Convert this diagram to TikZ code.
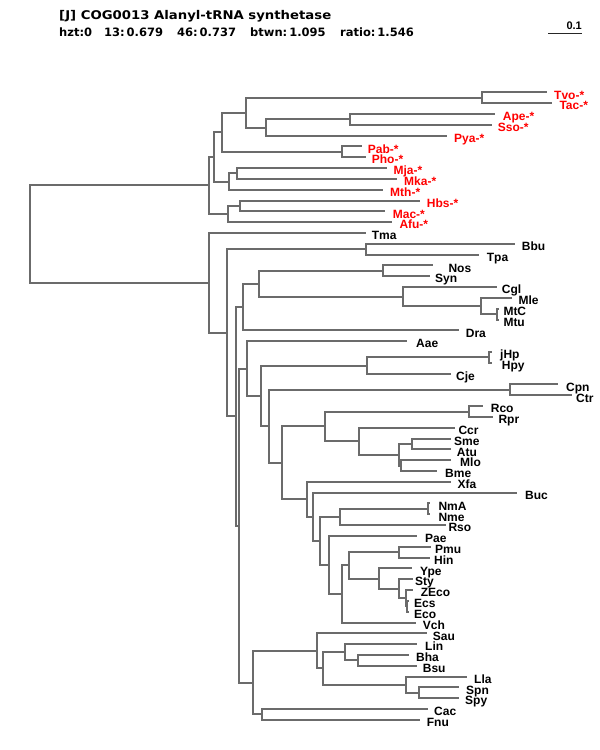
\documentclass[tikz,border=0pt]{standalone}
\usepackage{fontspec}
\setmainfont{Liberation Sans}
\newfontfamily\headfont{DejaVu Sans}
\usepackage{graphicx}

\begin{document}
\begin{tikzpicture}[x=1pt,y=-1pt,
  branch/.style={draw=black!58,line width=2pt},
  taxon/.style={anchor=base west,inner sep=0pt,font=\fontsize{12}{14}\selectfont\bfseries},
  archaeon/.style={taxon,text=red},
  header/.style={anchor=base west,inner sep=0pt,font=\headfont\fontsize{11.5}{14}\selectfont\bfseries}]
\useasboundingbox (0,0) rectangle (600,750);

\node[header,font=\headfont\fontsize{12}{14}\selectfont\bfseries] (title) at (59,19) {\resizebox{272pt}{\height}{[J] COG0013 Alanyl-tRNA synthetase}};
\node[header] (hzt) at (59,36) {hzt:0};
\node[header] (s13) at (104,36) {13:\,0.679};
\node[header] (s46) at (177,36) {46:\,0.737};
\node[header] (btwn) at (250,36) {btwn:\,1.095};
\node[header] (ratio) at (340,36) {ratio:\,1.546};

\coordinate (bar0) at (548,33);
\coordinate (bar1) at (582,33);
\draw[black!85,line width=1pt] (bar0) -- (bar1);
\node[taxon,anchor=base east,font=\fontsize{11}{13}\selectfont\bfseries] (barlabel) at (582,29) {0.1};

\coordinate (root) at (30,234.2);
\coordinate (arc) at (209.3,185.45);
\coordinate (a1) at (214.3,156.9);
\coordinate (a2) at (222,132.2);
\coordinate (a3) at (245.7,112.6);
\coordinate (tt) at (482.3,97.7);
\coordinate (asp) at (265.7,127.5);
\coordinate (as) at (350,119.35);
\coordinate (pp) at (342.3,151.8);
\coordinate (a4) at (229,181.6);
\coordinate (mm) at (236.7,173.45);
\coordinate (a5) at (227.7,214);
\coordinate (hm) at (240,205.9);

\coordinate (bac) at (209.3,282.9);
\coordinate (b1) at (226.7,332.75);
\coordinate (bt) at (365.7,249.2);
\coordinate (b2) at (235.7,416.3);
\coordinate (b3) at (243.3,307);
\coordinate (b5) at (259,283.7);
\coordinate (ns) at (382.7,270.8);
\coordinate (cgl) at (403.3,296.5);
\coordinate (mle) at (481,306);
\coordinate (mt) at (496.7,314.1);
\coordinate (b4) at (238.7,525.6);
\coordinate (b6) at (246.7,368.55);
\coordinate (b7) at (260.7,395.9);
\coordinate (hc) at (366.7,365.5);
\coordinate (hh) at (489.3,357.4);
\coordinate (b8) at (269.3,426.35);
\coordinate (cc) at (510,389.85);
\coordinate (b9) at (281.7,462.85);
\coordinate (b10) at (324.7,426.4);
\coordinate (rr) at (469.3,411.5);
\coordinate (b11) at (358.7,441.25);
\coordinate (b12) at (399.3,454.8);
\coordinate (sa) at (411.7,443.95);
\coordinate (mb) at (401,465.6);
\coordinate (b13) at (306.7,499.3);
\coordinate (b14) at (313.3,516.8);
\coordinate (b15) at (320,540.95);
\coordinate (b16) at (340,517);
\coordinate (nn) at (427.7,508.85);
\coordinate (b17) at (328.7,564.9);
\coordinate (b18) at (342,593.9);
\coordinate (b19) at (348.7,565.3);
\coordinate (ph) at (399,552.1);
\coordinate (b20) at (379,578.5);
\coordinate (b21) at (399.3,588.65);
\coordinate (b22) at (405.7,598.1);
\coordinate (ee) at (407,606.2);
\coordinate (b23) at (252.7,682.65);
\coordinate (b24) at (316.7,650.9);
\coordinate (b25) at (323,668.45);
\coordinate (b26) at (344.7,652.2);
\coordinate (bb) at (357.7,660.3);
\coordinate (b27) at (406,684.7);
\coordinate (ss) at (419,692.8);
\coordinate (cf) at (262,714.4);

\coordinate (Tvo) at (546.7,92.3);
\coordinate (Tac) at (552.3,103.1);
\coordinate (Ape) at (495,113.9);
\coordinate (Sso) at (492.3,124.8);
\coordinate (Pya) at (446.7,135.6);
\coordinate (Pab) at (362.3,146.4);
\coordinate (Pho) at (365.7,157.2);
\coordinate (Mja) at (386.7,168.0);
\coordinate (Mka) at (397.3,178.9);
\coordinate (Mth) at (382.7,189.7);
\coordinate (Hbs) at (420,200.5);
\coordinate (Mac) at (385,211.3);
\coordinate (Afu) at (391.7,222.1);
\coordinate (Tma) at (365.7,233.0);
\coordinate (Bbu) at (515,243.8);
\coordinate (Tpa) at (479.3,254.6);
\coordinate (Nos) at (433.3,265.4);
\coordinate (Syn) at (430,276.2);
\coordinate (Cgl) at (496.7,287.1);
\coordinate (Mle) at (511.7,297.9);
\coordinate (MtC) at (498.5,308.7);
\coordinate (Mtu) at (498.5,319.5);
\coordinate (Dra) at (459.3,330.3);
\coordinate (Aae) at (407.3,341.2);
\coordinate (jHp) at (491.5,352.0);
\coordinate (Hpy) at (491.5,362.8);
\coordinate (Cje) at (450.7,373.6);
\coordinate (Cpn) at (558.3,384.4);
\coordinate (Ctr) at (571.7,395.3);
\coordinate (Rco) at (482.7,406.1);
\coordinate (Rpr) at (493.3,416.9);
\coordinate (Ccr) at (455,427.7);
\coordinate (Sme) at (450.7,438.5);
\coordinate (Atu) at (450.7,449.4);
\coordinate (Mlo) at (450.7,460.2);
\coordinate (Bme) at (437.3,471.0);
\coordinate (Xfa) at (450.7,481.8);
\coordinate (Buc) at (517.3,492.6);
\coordinate (NmA) at (430,503.4);
\coordinate (Nme) at (430,514.3);
\coordinate (Rso) at (446,525.1);
\coordinate (Pae) at (417.3,535.9);
\coordinate (Pmu) at (431,546.7);
\coordinate (Hin) at (430,557.5);
\coordinate (Ype) at (412.3,568.4);
\coordinate (Sty) at (413.3,579.2);
\coordinate (ZEco) at (413.3,590.0);
\coordinate (Ecs) at (408.5,600.8);
\coordinate (Eco) at (408.5,611.6);
\coordinate (Vch) at (416,622.5);
\coordinate (Sau) at (426.7,633.3);
\coordinate (Lin) at (417.3,644.1);
\coordinate (Bha) at (409,654.9);
\coordinate (Bsu) at (417.3,665.7);
\coordinate (Lla) at (466.7,676.6);
\coordinate (Spn) at (459.3,687.4);
\coordinate (Spy) at (459.3,698.2);
\coordinate (Cac) at (427.7,709.0);
\coordinate (Fnu) at (420,719.8);

\draw[branch] (root) |- (arc) (root) |- (bac);
\draw[branch] (arc) |- (a1) (arc) |- (a5);
\draw[branch] (a1) |- (a2) (a1) |- (a4);
\draw[branch] (a2) |- (a3) (a2) |- (pp);
\draw[branch] (a3) |- (tt) (a3) |- (asp);
\draw[branch] (tt) |- (Tvo) (tt) |- (Tac);
\draw[branch] (asp) |- (as) (asp) |- (Pya);
\draw[branch] (as) |- (Ape) (as) |- (Sso);
\draw[branch] (pp) |- (Pab) (pp) |- (Pho);
\draw[branch] (a4) |- (mm) (a4) |- (Mth);
\draw[branch] (mm) |- (Mja) (mm) |- (Mka);
\draw[branch] (a5) |- (hm) (a5) |- (Afu);
\draw[branch] (hm) |- (Hbs) (hm) |- (Mac);

\draw[branch] (bac) |- (Tma) (bac) |- (b1);
\draw[branch] (b1) |- (bt) (b1) |- (b2);
\draw[branch] (bt) |- (Bbu) (bt) |- (Tpa);
\draw[branch] (b2) |- (b3) (b2) |- (b4);
\draw[branch] (b3) |- (b5) (b3) |- (Dra);
\draw[branch] (b5) |- (ns) (b5) |- (cgl);
\draw[branch] (ns) |- (Nos) (ns) |- (Syn);
\draw[branch] (cgl) |- (Cgl) (cgl) |- (mle);
\draw[branch] (mle) |- (Mle) (mle) |- (mt);
\draw[branch] (mt) |- (MtC) (mt) |- (Mtu);
\draw[branch] (b4) |- (b6) (b4) |- (b23);
\draw[branch] (b6) |- (Aae) (b6) |- (b7);
\draw[branch] (b7) |- (hc) (b7) |- (b8);
\draw[branch] (hc) |- (hh) (hc) |- (Cje);
\draw[branch] (hh) |- (jHp) (hh) |- (Hpy);
\draw[branch] (b8) |- (cc) (b8) |- (b9);
\draw[branch] (cc) |- (Cpn) (cc) |- (Ctr);
\draw[branch] (b9) |- (b10) (b9) |- (b13);
\draw[branch] (b10) |- (rr) (b10) |- (b11);
\draw[branch] (rr) |- (Rco) (rr) |- (Rpr);
\draw[branch] (b11) |- (Ccr) (b11) |- (b12);
\draw[branch] (b12) |- (sa) (b12) |- (mb);
\draw[branch] (sa) |- (Sme) (sa) |- (Atu);
\draw[branch] (mb) |- (Mlo) (mb) |- (Bme);
\draw[branch] (b13) |- (Xfa) (b13) |- (b14);
\draw[branch] (b14) |- (Buc) (b14) |- (b15);
\draw[branch] (b15) |- (b16) (b15) |- (b17);
\draw[branch] (b16) |- (nn) (b16) |- (Rso);
\draw[branch] (nn) |- (NmA) (nn) |- (Nme);
\draw[branch] (b17) |- (Pae) (b17) |- (b18);
\draw[branch] (b18) |- (b19) (b18) |- (Vch);
\draw[branch] (b19) |- (ph) (b19) |- (b20);
\draw[branch] (ph) |- (Pmu) (ph) |- (Hin);
\draw[branch] (b20) |- (Ype) (b20) |- (b21);
\draw[branch] (b21) |- (Sty) (b21) |- (b22);
\draw[branch] (b22) |- (ZEco) (b22) |- (ee);
\draw[branch] (ee) |- (Ecs) (ee) |- (Eco);
\draw[branch] (b23) |- (b24) (b23) |- (cf);
\draw[branch] (b24) |- (Sau) (b24) |- (b25);
\draw[branch] (b25) |- (b26) (b25) |- (b27);
\draw[branch] (b26) |- (Lin) (b26) |- (bb);
\draw[branch] (bb) |- (Bha) (bb) |- (Bsu);
\draw[branch] (b27) |- (Lla) (b27) |- (ss);
\draw[branch] (ss) |- (Spn) (ss) |- (Spy);
\draw[branch] (cf) |- (Cac) (cf) |- (Fnu);

\node[archaeon] (lTvo) at (554,99.0) {Tvo-*};
\node[archaeon] (lTac) at (559.3,109.8) {Tac-*};
\node[archaeon] (lApe) at (502.7,120.6) {Ape-*};
\node[archaeon] (lSso) at (497.7,131.5) {Sso-*};
\node[archaeon] (lPya) at (454,142.3) {Pya-*};
\node[archaeon] (lPab) at (367.7,153.1) {Pab-*};
\node[archaeon] (lPho) at (371.7,163.9) {Pho-*};
\node[archaeon] (lMja) at (393.3,174.7) {Mja-*};
\node[archaeon] (lMka) at (404,185.6) {Mka-*};
\node[archaeon] (lMth) at (390,196.4) {Mth-*};
\node[archaeon] (lHbs) at (426.7,207.2) {Hbs-*};
\node[archaeon] (lMac) at (392.7,218.0) {Mac-*};
\node[archaeon] (lAfu) at (399.3,228.8) {Afu-*};
\node[taxon] (lTma) at (371.7,239.7) {Tma};
\node[taxon] (lBbu) at (521.7,250.5) {Bbu};
\node[taxon] (lTpa) at (486.7,261.3) {Tpa};
\node[taxon] (lNos) at (448.3,272.1) {Nos};
\node[taxon] (lSyn) at (435,282.9) {Syn};
\node[taxon] (lCgl) at (501.7,293.8) {Cgl};
\node[taxon] (lMle) at (518.3,304.6) {Mle};
\node[taxon] (lMtC) at (503.3,315.4) {MtC};
\node[taxon] (lMtu) at (503.3,326.2) {Mtu};
\node[taxon] (lDra) at (465.7,337.0) {Dra};
\node[taxon] (lAae) at (416,347.9) {Aae};
\node[taxon] (ljHp) at (500,358.7) {jHp};
\node[taxon] (lHpy) at (501.7,369.5) {Hpy};
\node[taxon] (lCje) at (456,380.3) {Cje};
\node[taxon] (lCpn) at (566,391.1) {Cpn};
\node[taxon] (lCtr) at (576,402.0) {Ctr};
\node[taxon] (lRco) at (490.7,412.8) {Rco};
\node[taxon] (lRpr) at (498.3,423.6) {Rpr};
\node[taxon] (lCcr) at (458.3,434.4) {Ccr};
\node[taxon] (lSme) at (454,445.2) {Sme};
\node[taxon] (lAtu) at (456.7,456.1) {Atu};
\node[taxon] (lMlo) at (460,466.9) {Mlo};
\node[taxon] (lBme) at (445,477.7) {Bme};
\node[taxon] (lXfa) at (457.3,488.5) {Xfa};
\node[taxon] (lBuc) at (525,499.3) {Buc};
\node[taxon] (lNmA) at (438.3,510.1) {NmA};
\node[taxon] (lNme) at (438.3,521.0) {Nme};
\node[taxon] (lRso) at (448.3,531.8) {Rso};
\node[taxon] (lPae) at (425,542.6) {Pae};
\node[taxon] (lPmu) at (435,553.4) {Pmu};
\node[taxon] (lHin) at (434,564.2) {Hin};
\node[taxon] (lYpe) at (420,575.1) {Ype};
\node[taxon] (lSty) at (415,585.9) {Sty};
\node[taxon] (lZEco) at (420.7,596.7) {ZEco};
\node[taxon] (lEcs) at (414,607.5) {Ecs};
\node[taxon] (lEco) at (414,618.3) {Eco};
\node[taxon] (lVch) at (422.7,629.2) {Vch};
\node[taxon] (lSau) at (432.7,640.0) {Sau};
\node[taxon] (lLin) at (425,650.8) {Lin};
\node[taxon] (lBha) at (416,661.6) {Bha};
\node[taxon] (lBsu) at (422.7,672.4) {Bsu};
\node[taxon] (lLla) at (474,683.3) {Lla};
\node[taxon] (lSpn) at (466,694.1) {Spn};
\node[taxon] (lSpy) at (465,704.9) {Spy};
\node[taxon] (lCac) at (434,715.7) {Cac};
\node[taxon] (lFnu) at (426.7,726.5) {Fnu};
\end{tikzpicture}
\end{document}
